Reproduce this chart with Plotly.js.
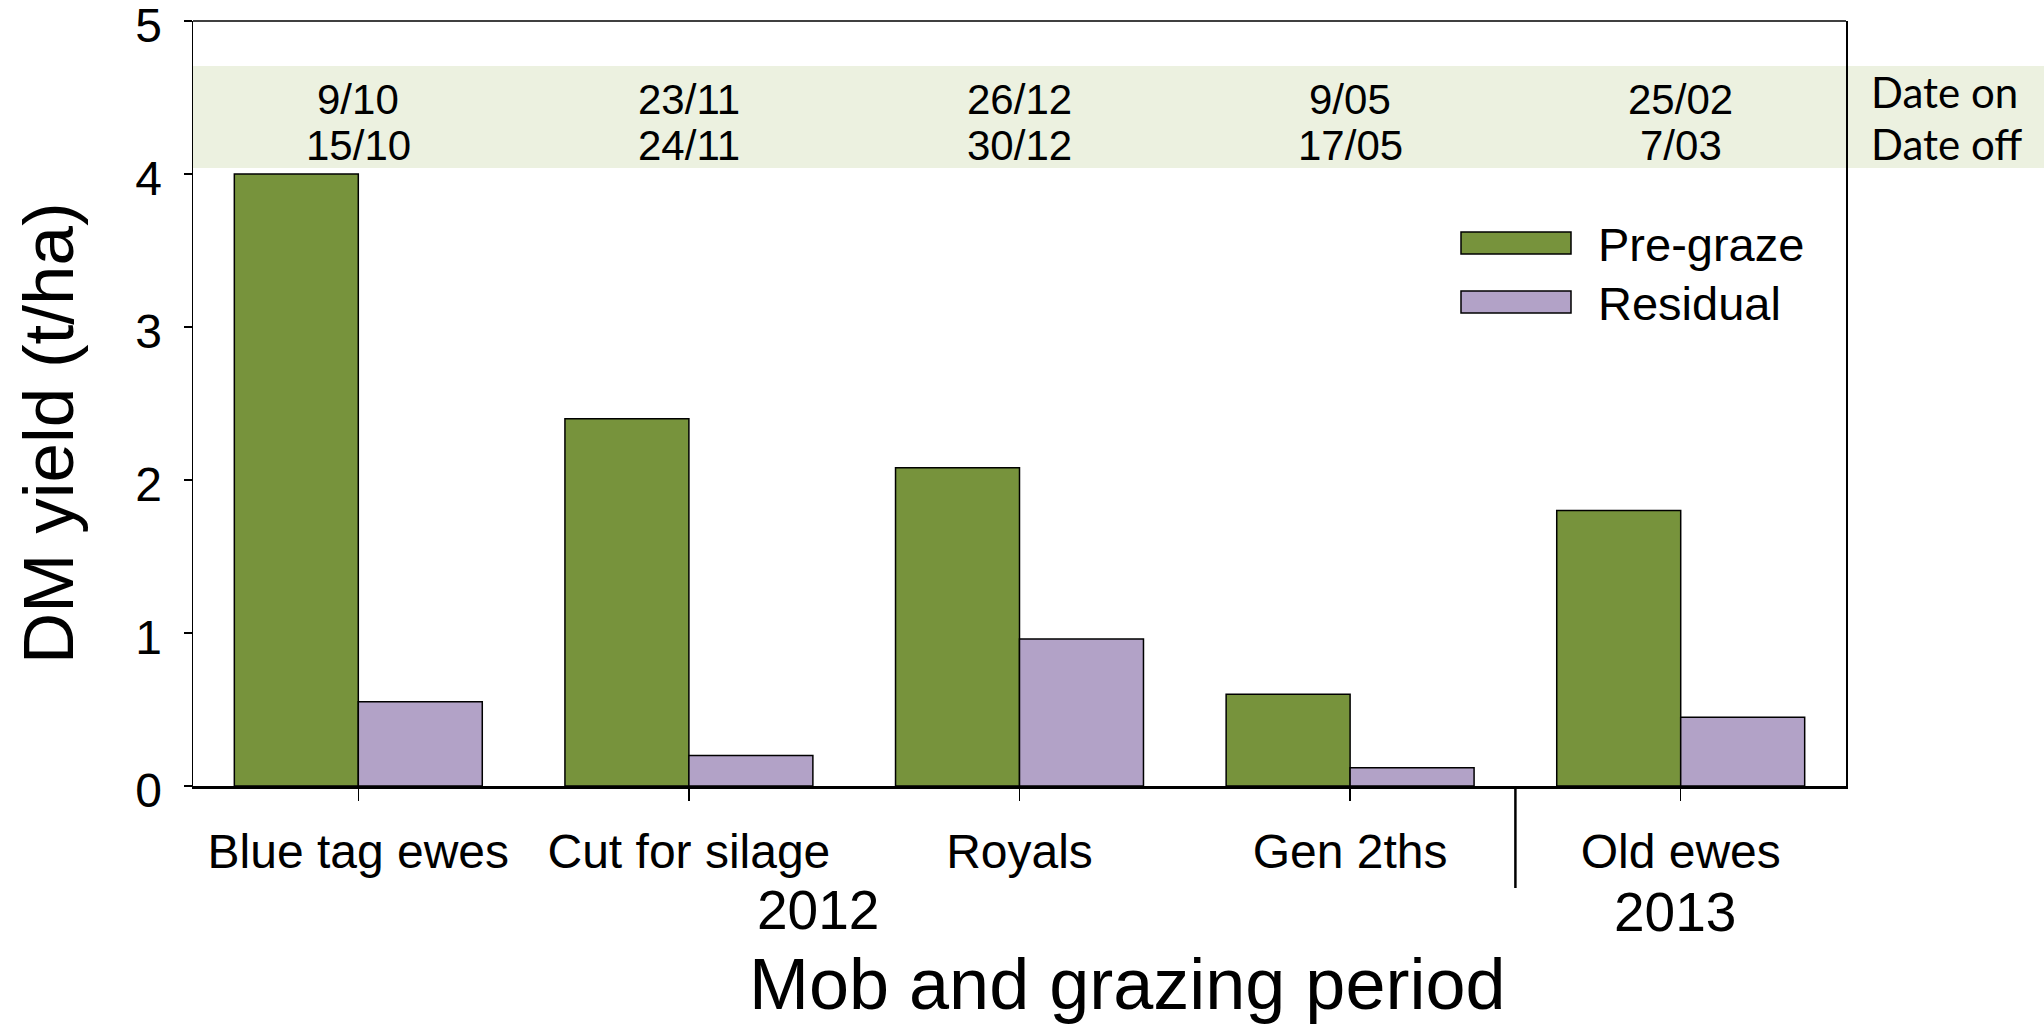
<!DOCTYPE html>
<html>
<head>
<meta charset="utf-8">
<script src="https://cdn.plot.ly/plotly-3.0.1.min.js"></script>
<style>
html,body{margin:0;padding:0;background:#fff;}
#chart{width:2044px;height:1025px;}
</style>
</head>
<body>
<div id="chart"></div>
<script>
// ---- data ----
const categories = ["Blue tag ewes", "Cut for silage", "Royals", "Gen 2ths", "Old ewes"];
const preGraze = [4.0, 2.4, 2.08, 0.6, 1.8];
const residual = [0.55, 0.2, 0.96, 0.12, 0.45];
const dateOn = ["9/10", "23/11", "26/12", "9/05", "25/02"];
const dateOff = ["15/10", "24/11", "30/12", "17/05", "7/03"];
const seriesNames = ["Pre-graze", "Residual"];
const yTicks = [0, 1, 2, 3, 4, 5];

const FONT = "Liberation Sans, Arial, sans-serif";
const green = "#77933C";
const purple = "#B2A2C7";

const traces = [
  {type: "bar", name: seriesNames[0], x: categories, y: preGraze,
   marker: {color: green, line: {color: "#000", width: 1.5}}, showlegend: false},
  {type: "bar", name: seriesNames[1], x: categories, y: residual,
   marker: {color: purple, line: {color: "#000", width: 1.5}}, showlegend: false}
];

const annotations = [];
categories.forEach((c, i) => {
  annotations.push({xref: "x", yref: "paper", x: c, y: (786 - 100) / 765, text: dateOn[i],
    showarrow: false, xanchor: "center", yanchor: "middle", font: {family: FONT, size: 42, color: "#000"}});
  annotations.push({xref: "x", yref: "paper", x: c, y: (786 - 145) / 765, text: dateOff[i],
    showarrow: false, xanchor: "center", yanchor: "middle", font: {family: FONT, size: 42, color: "#000"}});
});
annotations.push({xref: "paper", yref: "paper", x: (1869 - 193) / 1653, y: (786 - 92) / 765, text: "Date on",
  showarrow: false, xanchor: "left", yanchor: "middle", font: {family: "Lato, Carlito, sans-serif", size: 42, color: "#000"}});
annotations.push({xref: "paper", yref: "paper", x: (1869 - 193) / 1653, y: (786 - 144) / 765, text: "Date off",
  showarrow: false, xanchor: "left", yanchor: "middle", font: {family: "Lato, Carlito, sans-serif", size: 42, color: "#000"}});
// legend texts
annotations.push({xref: "paper", yref: "paper", x: (1596 - 193) / 1653, y: (786 - 245) / 765, text: seriesNames[0],
  showarrow: false, xanchor: "left", yanchor: "middle", font: {family: FONT, size: 47, color: "#000"}});
annotations.push({xref: "paper", yref: "paper", x: (1596 - 193) / 1653, y: (786 - 303) / 765, text: seriesNames[1],
  showarrow: false, xanchor: "left", yanchor: "middle", font: {family: FONT, size: 47, color: "#000"}});
// years
annotations.push({xref: "paper", yref: "paper", x: (818 - 193) / 1653, y: (786 - 910) / 765, text: "2012",
  showarrow: false, xanchor: "center", yanchor: "middle", font: {family: FONT, size: 55, color: "#000"}});
annotations.push({xref: "paper", yref: "paper", x: (1675 - 193) / 1653, y: (786 - 912) / 765, text: "2013",
  showarrow: false, xanchor: "center", yanchor: "middle", font: {family: FONT, size: 55, color: "#000"}});
// axis titles
annotations.push({xref: "paper", yref: "paper", x: (1127 - 193) / 1653, y: (786 - 984) / 765, text: "Mob and grazing period",
  showarrow: false, xanchor: "center", yanchor: "middle", font: {family: FONT, size: 72, color: "#000"}});
annotations.push({xref: "paper", yref: "paper", x: (48 - 193) / 1653, y: (786 - 433) / 765, text: "DM yield (t/ha)",
  textangle: -90, showarrow: false, xanchor: "center", yanchor: "middle", font: {family: FONT, size: 71, color: "#000"}});

const shapes = [
  // date band
  {type: "rect", xref: "paper", yref: "paper", x0: 0, x1: (2044 - 193) / 1653,
   y0: (786 - 168) / 765, y1: (786 - 66) / 765, fillcolor: "#ECF1E0", line: {width: 0}, layer: "below"},
  // top frame line
  {type: "line", xref: "paper", yref: "paper", x0: 0, x1: 1, y0: 1, y1: 1, line: {color: "#000", width: 1.5}},
  // year separator
  {type: "line", xref: "x", yref: "paper", x0: 3.5, x1: 3.5, y0: 0, y1: (786 - 888) / 765, line: {color: "#000", width: 2.5}},
  // legend swatches
  {type: "rect", xref: "paper", yref: "paper", x0: (1461 - 193) / 1653, x1: (1571 - 193) / 1653,
   y0: (786 - 232) / 765, y1: (786 - 254) / 765, fillcolor: green, line: {color: "#000", width: 1.5}},
  {type: "rect", xref: "paper", yref: "paper", x0: (1461 - 193) / 1653, x1: (1571 - 193) / 1653,
   y0: (786 - 291) / 765, y1: (786 - 313) / 765, fillcolor: purple, line: {color: "#000", width: 1.5}}
];

const layout = {
  width: 2044, height: 1025,
  margin: {l: 193, r: 198, t: 21, b: 239, pad: 0},
  paper_bgcolor: "#fff",
  plot_bgcolor: "rgba(0,0,0,0)",
  barmode: "group",
  bargap: 0.25,
  bargroupgap: 0,
  showlegend: false,
  font: {family: FONT, color: "#000"},
  xaxis: {
    type: "category", range: [-0.5, 4.5],
    showline: true, linecolor: "#000", linewidth: 2.5, mirror: false,
    ticks: "outside", ticklen: 12, tickwidth: 1.5, tickcolor: "#000",
    tickfont: {family: FONT, size: 48, color: "#000"},
    ticklabelstandoff: 10,
    ticklabeloverflow: "allow",
    showgrid: false, zeroline: false, fixedrange: true
  },
  yaxis: {
    range: [0, 5], tickvals: yTicks, ticktext: yTicks.map(String),
    showline: true, linecolor: "#000", linewidth: 1.5, mirror: true,
    ticks: "outside", ticklen: 8, tickwidth: 1.5, tickcolor: "#000",
    tickfont: {family: FONT, size: 48, color: "#000"},
    ticklabelstandoff: 12,
    ticklabelshift: 4,
    ticklabeloverflow: "allow",
    showgrid: false, zeroline: false, fixedrange: true
  },
  shapes: shapes,
  annotations: annotations
};

Plotly.newPlot("chart", traces, layout, {staticPlot: true, displayModeBar: false});
</script>
</body>
</html>
